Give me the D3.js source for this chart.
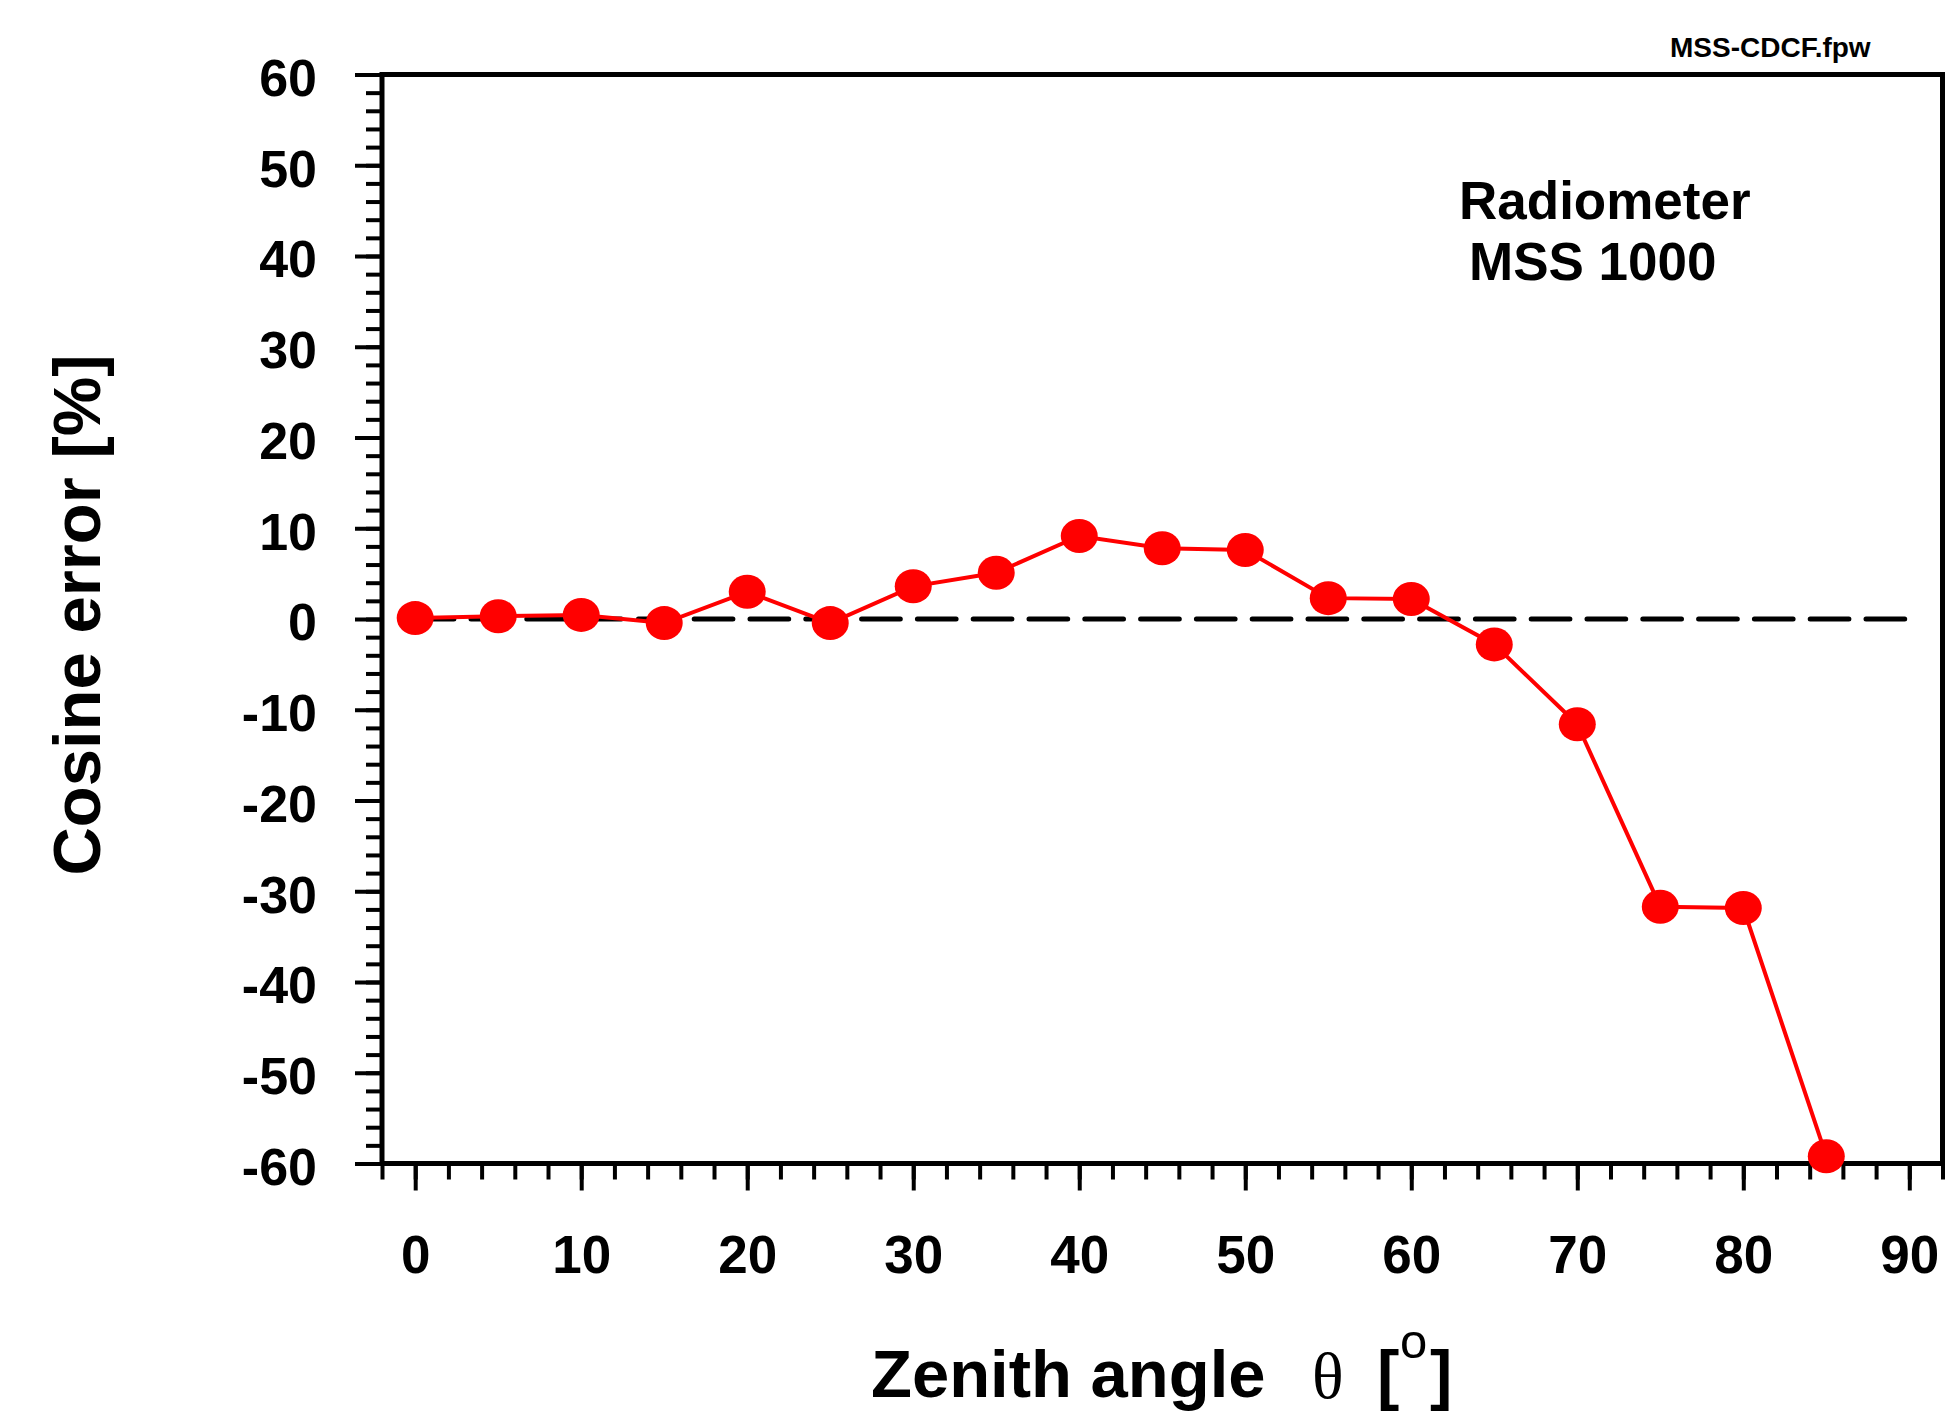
<!DOCTYPE html>
<html>
<head>
<meta charset="utf-8">
<script src="https://cdn.jsdelivr.net/npm/d3@7"></script>
<style>
  body { margin: 0; background: #fff; }
  text { font-family: "Liberation Sans", Arial, Helvetica, sans-serif; fill: #000; }
</style>
</head>
<body>
<script>
// datos: angulo cenital y error de coseno
var angles = [0, 5, 10, 15, 20, 25, 30, 35, 40, 45, 50, 55, 60, 65, 70, 75, 80, 85];
var cosErr = [0.1, 0.3, 0.45, -0.45, 3.0, -0.45, 3.6, 5.1, 9.15, 7.8, 7.6, 2.3, 2.2, -2.8, -11.6, -31.7, -31.85, -59.2];

var xMajor = [0, 10, 20, 30, 40, 50, 60, 70, 80, 90];
var yMajor = [-60, -50, -40, -30, -20, -10, 0, 10, 20, 30, 40, 50, 60];
var xMinor = d3.range(-2, 93, 2);
var yMinor = d3.range(-60, 61, 2);

var WIDTH  = 1952;
var HEIGHT = 1412;

var svg = d3.select('body')
  .append('svg')
  .attr('width', WIDTH)
  .attr('height', HEIGHT);

var x = d3.scaleLinear().domain([-2, 92]).range([382, 1942.5]);
var y = d3.scaleLinear().domain([-60, 60]).range([1163.5, 74.5]);

// guion normal en vez del signo menos de d3
function plain(d){ return String(d); }

// ticks menores
svg.append('g')
  .attr('transform', 'translate(0,' + y(-60) + ')')
  .call(d3.axisBottom(x).tickValues(xMinor).tickSize(16).tickFormat(''))
  .call(function(g){ g.select('.domain').remove(); });

svg.append('g')
  .attr('transform', 'translate(' + x(-2) + ',0)')
  .call(d3.axisLeft(y).tickValues(yMinor).tickSize(16).tickFormat(''))
  .call(function(g){ g.select('.domain').remove(); });

// ticks mayores con etiquetas
var xAx = svg.append('g')
  .attr('transform', 'translate(0,' + y(-60) + ')')
  .call(d3.axisBottom(x).tickValues(xMajor).tickSize(27).tickPadding(45).tickFormat(plain))
  .call(function(g){ g.select('.domain').remove(); });

xAx.selectAll('text')
  .attr('font-size', 53)
  .attr('font-weight', 'bold')
  .attr('font-family', null)
  .attr('dy', '0.71em');

var yAx = svg.append('g')
  .attr('transform', 'translate(' + x(-2) + ',0)')
  .call(d3.axisLeft(y).tickValues(yMajor).tickSize(27).tickPadding(38).tickFormat(plain))
  .call(function(g){ g.select('.domain').remove(); });

yAx.selectAll('text')
  .attr('font-size', 52)
  .attr('font-weight', 'bold')
  .attr('font-family', null)
  .attr('dy', '0.4em');

svg.selectAll('.tick line')
  .attr('stroke', '#000')
  .attr('stroke-width', 4);

// marco
svg.append('rect')
  .attr('x', x(-2))
  .attr('y', y(60))
  .attr('width', x(92) - x(-2))
  .attr('height', y(-60) - y(60))
  .attr('fill', 'none')
  .attr('stroke', '#000')
  .attr('stroke-width', 5);

// linea de cero
svg.append('line')
  .attr('x1', x(0))
  .attr('x2', x(90))
  .attr('y1', y(0))
  .attr('y2', y(0))
  .attr('stroke', '#000')
  .attr('stroke-width', 5)
  .attr('stroke-linecap', 'round')
  .attr('stroke-dasharray', '38.7,17.1');

var line = d3.line()
  .x(function(d, i){ return x(angles[i]); })
  .y(function(d){ return y(d); });

svg.append('path')
  .datum(cosErr)
  .attr('d', line)
  .attr('fill', 'none')
  .attr('stroke', '#ff0000')
  .attr('stroke-width', 4);

svg.selectAll('ellipse.pt')
  .data(cosErr)
  .enter()
  .append('ellipse')
  .attr('class', 'pt')
  .attr('cx', function(d, i){ return x(angles[i]); })
  .attr('cy', function(d){ return y(d); })
  .attr('rx', 18.5)
  .attr('ry', 17)
  .attr('fill', '#ff0000');

// textos
svg.append('text')
  .attr('x', 1670).attr('y', 57)
  .attr('font-size', 28).attr('font-weight', 'bold')
  .text('MSS-CDCF.fpw');

svg.append('text')
  .attr('x', 1459).attr('y', 219)
  .attr('font-size', 53).attr('font-weight', 'bold')
  .text('Radiometer');

svg.append('text')
  .attr('x', 1469).attr('y', 280)
  .attr('font-size', 53).attr('font-weight', 'bold')
  .text('MSS 1000');

svg.append('text')
  .attr('transform', 'translate(100,615) rotate(-90)')
  .attr('text-anchor', 'middle')
  .attr('font-size', 67).attr('font-weight', 'bold')
  .text('Cosine error [%]');

svg.append('text')
  .attr('x', 871).attr('y', 1397)
  .attr('font-size', 67).attr('font-weight', 'bold')
  .text('Zenith angle');

svg.append('text')
  .attr('x', 1312).attr('y', 1398)
  .attr('font-size', 66)
  .style('font-family', '"Liberation Serif", "Times New Roman", serif')
  .text('θ');

svg.append('text')
  .attr('x', 1377).attr('y', 1397)
  .attr('font-size', 67).attr('font-weight', 'bold')
  .text('[');

svg.append('text')
  .attr('x', 1400).attr('y', 1358)
  .attr('font-size', 49)
  .text('o');

svg.append('text')
  .attr('x', 1430).attr('y', 1397)
  .attr('font-size', 67).attr('font-weight', 'bold')
  .text(']');
</script>
</body>
</html>
